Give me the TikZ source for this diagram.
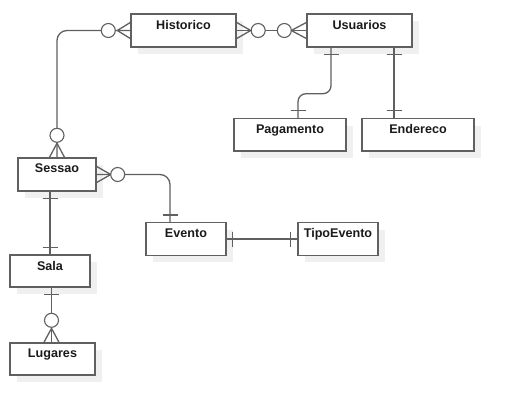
\documentclass[tikz,border=0pt]{standalone}
\usepackage{fontspec}
\setmainfont{Liberation Sans}
\usetikzlibrary{calc,shadows}
\definecolor{lc}{HTML}{606060}
\definecolor{tc}{HTML}{1A1A1A}
\tikzset{
  ent/.style={draw=lc, line width=1.4pt, fill=white, inner sep=0pt,
    drop shadow={shadow xshift=7pt, shadow yshift=-7pt, fill=black!6, opacity=1},
    label={[lbl]north:#1}},
  lbl/.style={anchor=north, inner sep=0pt, yshift=-6.5pt, text=tc,
    font=\fontsize{12.6}{14}\selectfont\bfseries},
  conn/.style={draw=lc, line width=1.3pt},
  ring/.style={draw=lc, line width=1.1pt, fill=white},
}
\begin{document}
\begin{tikzpicture}[x=1pt,y=-1pt]
\useasboundingbox (0,0) rectangle (514,415);
% entities
\node[ent=Historico, minimum width=105pt, minimum height=33pt] (hist) at (183.5,30.5) {};
\node[ent=Usuarios, minimum width=105pt, minimum height=33pt] (usu) at (359.5,30.5) {};
\node[ent=Pagamento, minimum width=112pt, minimum height=32.5pt] (pag) at (290,134.75) {};
\node[ent=Endereco, minimum width=112pt, minimum height=32.5pt] (endr) at (418,134.75) {};
\node[ent=Sessao, minimum width=78pt, minimum height=33pt] (sess) at (57,174.5) {};
\node[ent=Evento, minimum width=80pt, minimum height=32.5pt] (ev) at (186,239) {};
\node[ent=TipoEvento, minimum width=80pt, minimum height=32.5pt] (tipo) at (338,239) {};
\node[ent=Sala, minimum width=80pt, minimum height=32pt] (sala) at (50,271) {};
\node[ent=Lugares, minimum width=85pt, minimum height=32pt] (lug) at (52.5,359) {};

% Historico -- Sessao
\draw[conn, rounded corners=10pt] (hist.west) -| (sess.north);
\draw[conn] ($(hist.west)+(-13,0)$) -- ($(hist.west)+(0,-8)$)
            ($(hist.west)+(-13,0)$) -- ($(hist.west)+(0,8)$);
\draw[ring] ($(hist.west)+(-22,0)$) circle (7);
\draw[conn] ($(sess.north)+(0,-14)$) -- ($(sess.north)+(-7.5,0)$)
            ($(sess.north)+(0,-14)$) -- ($(sess.north)+(7.5,0)$);
\draw[ring] ($(sess.north)+(0,-22)$) circle (7);

% Historico -- Usuarios
\draw[conn] (hist.east) -- (usu.west);
\draw[conn] ($(hist.east)+(14,0)$) -- ($(hist.east)+(0,-8)$)
            ($(hist.east)+(14,0)$) -- ($(hist.east)+(0,8)$);
\draw[ring] ($(hist.east)+(21.5,0)$) circle (7);
\draw[conn] ($(usu.west)+(-15,0)$) -- ($(usu.west)+(0,-8)$)
            ($(usu.west)+(-15,0)$) -- ($(usu.west)+(0,8)$);
\draw[ring] ($(usu.west)+(-22,0)$) circle (7);

% Usuarios -- Pagamento
\draw[conn, rounded corners=8pt] ($(usu.south)+(-28.5,0)$) -- ++(0,46) -| ($(pag.north)+(8,0)$);
\draw[conn] ($(usu.south)+(-36,7)$) -- ++(15,0);
\draw[conn] ($(pag.north)+(0.5,-7)$) -- ++(15,0);

% Usuarios -- Endereco
\draw[conn] ($(usu.south)+(34.5,0)$) -- ($(endr.north)+(-24,0)$);
\draw[conn] ($(usu.south)+(27,7)$) -- ++(15,0);
\draw[conn] ($(endr.north)+(-31.5,-7)$) -- ++(15,0);

% Sessao -- Evento
\draw[conn, rounded corners=10pt] (sess.east) -| ($(ev.north)+(-16,0)$);
\draw[conn] ($(sess.east)+(14,0)$) -- ($(sess.east)+(0,-8)$)
            ($(sess.east)+(14,0)$) -- ($(sess.east)+(0,8)$);
\draw[ring] ($(sess.east)+(21,0)$) circle (7);
\draw[conn] ($(ev.north)+(-23.5,-7)$) -- ++(15,0);

% Sessao -- Sala
\draw[conn] ($(sess.south)+(-7,0)$) -- (sala.north);
\draw[conn] ($(sess.south)+(-14.5,7)$) -- ++(15,0);
\draw[conn] ($(sala.north)+(-7.5,-7)$) -- ++(15,0);

% Evento -- TipoEvento
\draw[conn] (ev.east) -- (tipo.west);
\draw[conn] ($(ev.east)+(6,-7.5)$) -- ++(0,15);
\draw[conn] ($(tipo.west)+(-7,-7.5)$) -- ++(0,15);

% Sala -- Lugares
\draw[conn] ($(sala.south)+(1.5,0)$) -- ($(lug.north)+(-1,0)$);
\draw[conn] ($(sala.south)+(-6,7)$) -- ++(15,0);
\draw[conn] ($(lug.north)+(-1,-14)$) -- ($(lug.north)+(-8.5,0)$)
            ($(lug.north)+(-1,-14)$) -- ($(lug.north)+(6.5,0)$);
\draw[ring] ($(lug.north)+(-1,-22)$) circle (7);
\end{tikzpicture}
\end{document}
